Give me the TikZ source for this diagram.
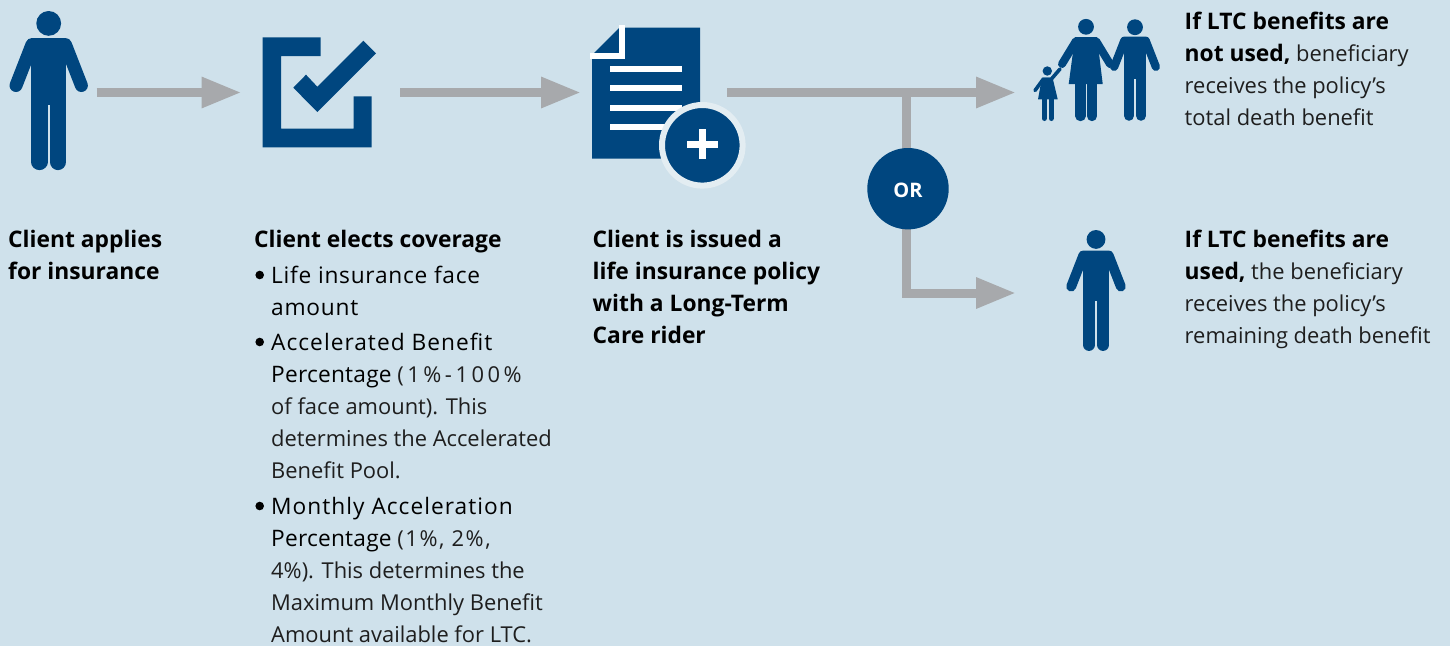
\documentclass[tikz,border=0pt]{standalone}
\usepackage{fontspec}
\usepackage{xcolor}
\setmainfont{Open Sans}
\usetikzlibrary{arrows.meta}
\definecolor{panelblue}{HTML}{CFE1EB}
\definecolor{navyblue}{HTML}{00467F}
\definecolor{flowgray}{HTML}{A7A9AC}
\definecolor{ringblue}{HTML}{E3EDF2}
\definecolor{textgray}{HTML}{1E1E1E}
\tikzset{
  flowarrow/.style={flowgray, line width=9pt, -{Triangle[length=40pt, width=29pt]}},
  bodytext/.style={inner sep=0pt, anchor=north west, align=left, text=textgray, font=\fontsize{21.9}{32}\selectfont},
  bulletdot/.style={circle, fill=black, minimum size=8.6pt, inner sep=0pt},
}
% x y scale
\newcommand{\personfig}[3]{
  \begin{scope}[shift={(#1,#2)}, scale=#3]
    \fill[navyblue] (0,12.4) circle (12.4);
    \draw[navyblue, line width=#3*13pt, line cap=round, line join=round] (-32.7,74.5) -- (-16.7,33.5) -- (16.7,33.5) -- (32.7,74.5);
    \fill[navyblue] (-17.4,27) rectangle (17.4,94);
    \draw[navyblue, line width=#3*16.2pt, line cap=round] (-9.3,93) -- (-9.3,151);
    \draw[navyblue, line width=#3*16.2pt, line cap=round] (9.3,93) -- (9.3,151);
  \end{scope}
}
\newcommand{\strongtext}[1]{{\fontsize{22.8}{32}\selectfont\bfseries\color{black}#1}}
\newcommand{\widetext}[2]{{\fontsize{22.7}{32}\selectfont\addfontfeature{LetterSpace=#1}\color{black}#2}}
\begin{document}
\begin{tikzpicture}[x=1pt, y=-1pt]
  \useasboundingbox (0,0) rectangle (1450,646);
  \fill[panelblue] (0,0) rectangle (1450,646);
  % people
  \personfig{48.7}{11}{1}
  \personfig{1096}{230}{0.76}
  \personfig{1135}{19.3}{0.638}
  % woman
  \fill[navyblue] (1086,26.8) circle (7.9);
  \draw[navyblue, line width=8pt, line cap=round, line join=round] (1062,64) -- (1076,41) -- (1096,41) -- (1110,64);
  \fill[navyblue] (1075,37) -- (1097,37) -- (1102.7,84) -- (1068.7,84) -- cycle;
  \draw[navyblue, line width=10.4pt, line cap=round] (1080.5,80) -- (1080.5,116);
  \draw[navyblue, line width=10.4pt, line cap=round] (1092,80) -- (1092,116);
  % child
  \fill[navyblue] (1047.3,71) circle (4.7);
  \draw[navyblue, line width=3.6pt, line cap=round, line join=round] (1035,90.5) -- (1043,79.5) -- (1051,79.5) -- (1060,69);
  \fill[navyblue] (1042,77.5) -- (1052.5,77.5) -- (1057.7,99.3) -- (1038,99.3) -- cycle;
  \draw[navyblue, line width=5.2pt, line cap=round] (1044.3,95) -- (1044.3,118.4);
  \draw[navyblue, line width=5.2pt, line cap=round] (1051.1,95) -- (1051.1,118.4);
  % check box
  \fill[navyblue] (320.5,37.3) -- (262.7,37.3) -- (262.7,147.3) -- (371.7,147.3) -- (371.7,96.3) -- (353.7,96.3) -- (353.7,128.7) -- (281,128.7) -- (281,56) -- (320.5,56) -- cycle;
  \fill[navyblue] (293.3,87.7) -- (306,74.7) -- (317.3,86.7) -- (363.3,40.7) -- (376,53.3) -- (317.3,112) -- cycle;
  % policy page
  \fill[navyblue] (619.3,27.7) -- (700,27.7) -- (700,158.7) -- (592,158.7) -- (592,55) -- cycle;
  \draw[white, line width=6pt] (622.2,25.3) -- (622.2,56.3) -- (590,56.3);
  \foreach \liney in {69,88,107.7,127} {
    \draw[white, line width=6pt] (610,\liney) -- (682,\liney);
  }
  \node[circle, fill=navyblue, draw=ringblue, line width=6pt, minimum size=80.6pt, inner sep=0pt] (rider) at (702.3,145.3) {};
  \fill[white] (687.3,140.6) rectangle (718,148);
  \fill[white] (698.7,129.3) rectangle (706,159.3);
  % arrows
  \coordinate (clientout) at (96.7,92.5);
  \coordinate (electin) at (241.5,92.5);
  \coordinate (electout) at (400,92.5);
  \coordinate (policyin) at (581,92.5);
  \coordinate (policyout) at (727,92.5);
  \coordinate (split) at (906.8,92.5);
  \coordinate (notusedin) at (1016,92.5);
  \coordinate (usedin) at (1016,293);
  \draw[flowarrow] (clientout) -- (electin);
  \draw[flowarrow] (electout) -- (policyin);
  \draw[flowarrow] (policyout) -- (notusedin);
  \draw[flowarrow] (split) -- (split |- usedin) -- (usedin);
  \node[circle, fill=navyblue, minimum size=81.4pt, inner sep=0pt, text=white, text height=17.3pt, text depth=0pt, font=\fontsize{20}{22}\selectfont\bfseries] (orbadge) at (908,188.7) {OR};
  % text
  \node[bodytext] (applytext) at (8,230) {\strongtext{Client applies}\\\strongtext{for insurance}};
  \node[bodytext] (electtext) at (254,230) {\strongtext{Client elects coverage}};
  \node[bulletdot] (bulletone) at (259.7,275) {};
  \node[bodytext] (faceitem) at (271,266) {\widetext{3.3}{Life insurance face}\\\widetext{3.3}{amount}};
  \node[bulletdot] (bullettwo) at (259.7,342) {};
  \node[bodytext] (percentitem) at (271,333) {\widetext{4.5}{Accelerated Benefit}\\\widetext{1}{Percentage} \addfontfeature{LetterSpace=16}(1\%-100\%\\of face amount). This\\determines the Accelerated\\Benefit Pool.};
  \node[bulletdot] (bulletthree) at (259.7,506) {};
  \node[bodytext] (monthlyitem) at (271,497) {\widetext{4.5}{Monthly Acceleration}\\\widetext{1}{Percentage} \addfontfeature{LetterSpace=7}(1\%, 2\%,\\4\%). This determines the\\Maximum Monthly Benefit\\Amount available for LTC.};
  \node[bodytext] (policytext) at (592.5,230) {\strongtext{Client is issued a}\\\strongtext{life insurance policy}\\\strongtext{with a Long-Term}\\\strongtext{Care rider}};
  \node[bodytext] (notusedtext) at (1184.5,12) {\strongtext{If LTC benefits are}\\\strongtext{not used,} beneficiary\\receives the policy’s\\total death benefit};
  \node[bodytext] (usedtext) at (1184.5,230) {\strongtext{If LTC benefits are}\\\strongtext{used,} the beneficiary\\receives the policy’s\\remaining death benefit};
\end{tikzpicture}
\end{document}
